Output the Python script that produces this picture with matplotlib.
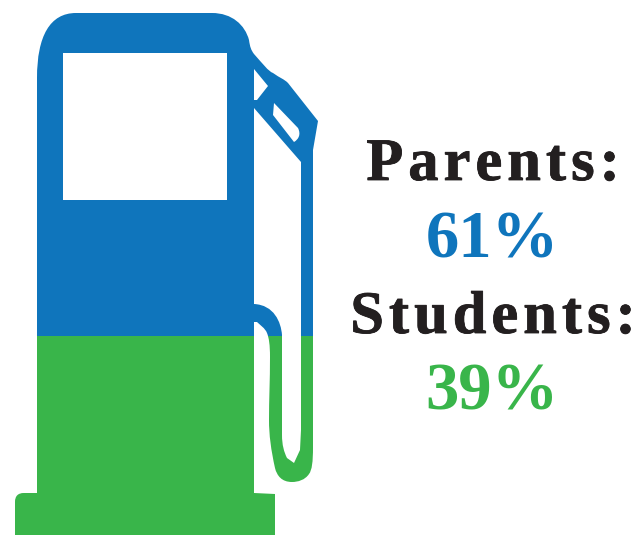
import matplotlib
matplotlib.use("Agg")
import matplotlib.pyplot as plt
import matplotlib.patheffects as pe
from matplotlib.path import Path
from matplotlib.patches import PathPatch

groups = ["Parents:", "Students:"]
shares = [61, 39]
share_labels = ["61%", "39%"]

BLUE = "#0F75BC"
GREEN = "#39B54A"
INK = "#231F20"

# pixel range of the pump gauge, 0% to 100%
GAUGE_TOP = 13
GAUGE_BOTTOM = 541.7


def build_path(parts):
  verts, codes = [], []
  for p in parts:
    if len(p) == 2:
      verts.append(p)
      codes.append(Path.LINETO if verts[:-1] else Path.MOVETO)
    else:
      verts += [p[:2], p[2:4], p[4:6]]
      codes += [Path.CURVE4] * 3
  verts.append(verts[0])
  codes.append(Path.CLOSEPOLY)
  return verts, codes


def pump_path():
  outline = [
    (37, 493), (37, 78), (37, 36, 50, 13, 76, 13), (212, 13),
    (232, 13, 245, 25, 249, 40), (250, 47, 251, 50, 254, 54),
    (263, 64, 268, 71, 273, 73), (280, 78, 284, 79, 288, 83), (318, 121),
    (313, 150), (313, 447),
    (313, 462, 312, 470, 309, 474), (305, 480, 298, 482, 292, 482),
    (282, 482, 277, 476, 275, 468), (271, 450, 269, 435, 269, 420),
    (269, 400, 270, 380, 270, 357), (270, 345, 269, 338, 267, 333),
    (265, 328, 260, 325, 257, 322), (254, 322), (254, 493), (275, 494),
    (275, 535), (15, 535), (15, 502), (15, 496, 18, 493, 24, 493),
  ]
  # holes run the opposite way round so they stay empty
  window = [(63, 53), (63, 200), (227, 200), (227, 53)]
  nozzle_gap = [(254, 69), (254, 100), (257, 100), (268, 86)]
  handle_slot = [(274, 103), (273, 115), (294, 142), (299, 139, 301, 134, 298, 128)]
  hose_gap = [
    (254, 108), (254, 304), (274, 305, 281, 322, 282, 335), (282, 435),
    (282, 445, 284, 452, 287, 458), (294, 463), (300, 450), (301, 430), (301, 162),
  ]
  verts, codes = [], []
  for part in [outline, window, nozzle_gap, handle_slot, hose_gap]:
    v, c = build_path(part)
    verts += v
    codes += c
  return Path(verts, codes)


def level(share):
  return GAUGE_TOP + share / 100 * (GAUGE_BOTTOM - GAUGE_TOP)


def spaced(s):
  # hair spaces open up the heading letters a little
  return "\u200a".join(s)


fig = plt.figure(figsize=(6.36, 5.39), dpi=100)
ax = fig.add_axes([0, 0, 1, 1])
ax.set_xlim(0, 636)
ax.set_ylim(539, 0)
ax.axis("off")

# the pump silhouette only clips the two stacked bars
shape = PathPatch(pump_path(), facecolor="none", edgecolor="none")
ax.add_patch(shape)

bars_top = ax.bar(170, level(shares[0]) - GAUGE_TOP, width=320, bottom=GAUGE_TOP, color=BLUE, linewidth=0)
bars_low = ax.bar(170, GAUGE_BOTTOM - level(shares[0]), width=320, bottom=level(shares[0]), color=GREEN, linewidth=0)
for b in list(bars_top) + list(bars_low):
  b.set_clip_path(shape)

font = dict(family="Liberation Serif", fontweight="bold", ha="center", va="baseline")
# thin outline thickens the slightly smaller heading letters
heavy = [pe.withStroke(linewidth=0.6, foreground=INK)]
ax.text(493, 180, spaced(groups[0]), color=INK, fontsize=43.5, path_effects=heavy, **font)
ax.text(492, 258, share_labels[0], color=BLUE, fontsize=48, **font)
ax.text(493, 333, spaced(groups[1]), color=INK, fontsize=43.5, path_effects=heavy, **font)
ax.text(492, 410, share_labels[1], color=GREEN, fontsize=48, **font)

fig.savefig("out.png", dpi=100)
